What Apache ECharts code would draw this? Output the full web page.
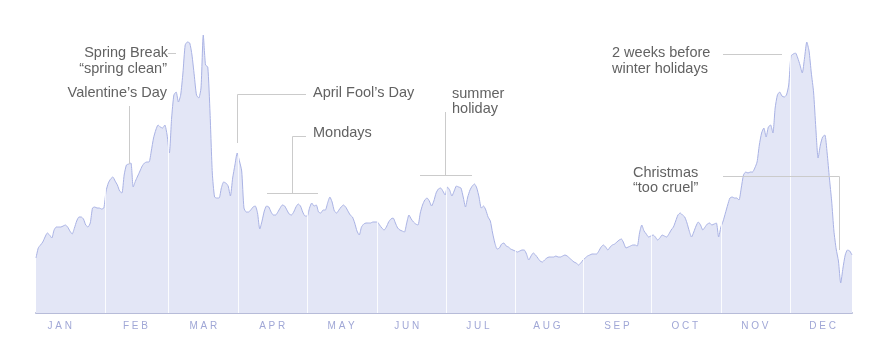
<html lang="en">
<head>
    <meta charset="UTF-8">
    <script src="https://cdn.jsdelivr.net/npm/echarts@6/dist/echarts.min.js"></script>
    <style type="text/css">
        html, body, #main {
            height: 100%;
            width: 100%;
            margin: 0;
            padding: 0;
            background: #fff;
        }
    </style>
    <title>Breakups through the year</title>
</head>
<body>
<div id="main"></div>
<script>
    // one value per day (height above baseline)
    var breakups = [
        55, 65, 68, 71, 76, 80, 78, 75, 83, 86, 86, 86, 87, 88, 86, 82, 79, 85, 92, 96,
        96, 94, 88, 86, 90, 105, 106, 105, 105, 104, 105, 122, 130, 134, 136, 132, 128, 122, 120, 138,
        148, 149, 150, 126, 132, 137, 142, 147, 150, 151, 151, 162, 175, 183, 188, 186, 185, 188, 178, 160,
        195, 218, 221, 211, 218, 240, 268, 271, 270, 258, 238, 218, 215, 225, 278, 248, 246, 200, 140, 116,
        115, 115, 125, 131, 130, 127, 117, 135, 148, 160, 152, 142, 105, 101, 101, 103, 106, 107, 100, 84,
        92, 102, 107, 106, 101, 98, 98, 101, 105, 108, 107, 103, 99, 98, 101, 106, 109, 107, 101, 97,
        97, 105, 110, 107, 108, 101, 100, 103, 103, 110, 116, 111, 102, 100, 103, 106, 108, 106, 102, 98,
        96, 90, 82, 78, 86, 89, 90, 90, 90, 91, 91, 91, 88, 85, 83, 86, 91, 94, 95, 90,
        85, 83, 82, 81, 90, 98, 94, 91, 89, 88, 100, 108, 113, 115, 112, 107, 112, 120, 124, 125,
        122, 118, 126, 123, 117, 122, 127, 126, 125, 116, 106, 116, 123, 127, 129, 125, 116, 105, 107, 103,
        96, 92, 80, 70, 64, 65, 69, 70, 67, 66, 64, 63, 62, 61, 62, 63, 63, 59, 53, 57,
        60, 58, 55, 52, 51, 53, 55, 56, 56, 56, 57, 56, 56, 57, 58, 57, 55, 53, 51, 50,
        48, 50, 53, 55, 57, 58, 59, 59, 59, 62, 66, 68, 66, 63, 66, 68, 69, 71, 73, 74,
        70, 65, 66, 67, 68, 68, 67, 80, 88, 82, 79, 76, 77, 78, 76, 73, 75, 78, 77, 76,
        79, 83, 86, 92, 98, 100, 98, 96, 90, 82, 76, 81, 87, 91, 88, 83, 86, 89, 90, 88,
        89, 90, 76, 86, 92, 100, 108, 115, 116, 115, 115, 113, 125, 138, 141, 140, 141, 141, 145, 151,
        168, 180, 185, 176, 186, 188, 180, 205, 218, 221, 217, 216, 218, 228, 257, 259, 260, 255, 248, 240,
        255, 271, 262, 240, 221, 185, 155, 168, 176, 178, 160, 135, 112, 82, 64, 52, 30, 45, 58, 63,
        62, 58
    ];
    var months = ['J A N', 'F E B', 'M A R', 'A P R', 'M A Y', 'J U N', 'J U L', 'A U G', 'S E P', 'O C T', 'N O V', 'D E C'];
    var monthLabelDays = [10.5, 44, 74, 104.5, 135, 164, 195.5, 226, 257, 287, 318, 348];
    var monthStartDays = [30.5, 58.5, 89.5, 120, 151, 181.5, 212, 242, 272, 303, 333.5];

    var lineColor = '#cbcbcb';
    var textColor = '#626262';
    var font = '14.5px "Liberation Sans", Arial, sans-serif';

    function note(text, x, y, align) {
        return {
            type: 'text', x: x, y: y, silent: true, z: 100,
            style: {text: text, fill: textColor, font: font, align: align || 'left', verticalAlign: 'middle'}
        };
    }
    function leader(points) {
        return {
            type: 'polyline', silent: true, z: 100,
            shape: {points: points},
            style: {stroke: lineColor, lineWidth: 1, fill: null}
        };
    }

    var myChart = echarts.init(document.getElementById('main'));
    var option = {
        animation: false,
        grid: {left: 36, right: 20, top: 13, bottom: 42},
        xAxis: {
            type: 'value',
            min: 0,
            max: breakups.length - 1,
            axisLine: {show: true, lineStyle: {color: '#b7bcd9', width: 2}},
            axisTick: {show: false},
            splitLine: {show: false},
            axisLabel: {
                customValues: monthLabelDays,
                margin: 8,
                color: '#a0a7d6',
                fontSize: 10,
                fontFamily: '"Liberation Sans", Arial, sans-serif',
                formatter: function (v) {
                    return months[monthLabelDays.indexOf(v)];
                }
            }
        },
        yAxis: {type: 'value', min: 0, max: 300, show: false},
        series: [{
            type: 'line',
            data: breakups.map(function (v, i) { return [i, v]; }),
            showSymbol: false,
            smooth: 0.2,
            lineStyle: {color: '#a9b2e4', width: 1},
            areaStyle: {color: '#e3e6f6', opacity: 1},
            markLine: {
                silent: true,
                symbol: ['none', 'none'],
                label: {show: false},
                lineStyle: {color: '#ffffff', width: 1, type: 'solid', opacity: 0.85},
                data: monthStartDays.map(function (d) { return {xAxis: d}; })
            }
        }],
        graphic: [
            note('Spring Break', 168, 53, 'right'),
            note('\u201cspring clean\u201d', 167, 69, 'right'),
            leader([[168, 53.5], [176, 53.5]]),
            note('Valentine\u2019s Day', 167, 93, 'right'),
            leader([[129.5, 106], [129.5, 164]]),
            note('April Fool\u2019s Day', 313, 93),
            leader([[306, 94.5], [237.5, 94.5], [237.5, 143]]),
            note('Mondays', 313, 133),
            leader([[306, 136.5], [292.5, 136.5], [292.5, 193.5]]),
            leader([[267, 193.5], [318, 193.5]]),
            note('summer', 452, 94),
            note('holiday', 452, 109),
            leader([[445.5, 112], [445.5, 175.5]]),
            leader([[420, 175.5], [472, 175.5]]),
            note('2 weeks before', 612, 53),
            note('winter holidays', 612, 69),
            leader([[723, 54.5], [782, 54.5]]),
            note('Christmas', 633, 173),
            note('\u201ctoo cruel\u201d', 633, 188),
            leader([[723, 176.5], [839.5, 176.5], [839.5, 250]])
        ]
    };
    myChart.setOption(option);
</script>
</body>
</html>
